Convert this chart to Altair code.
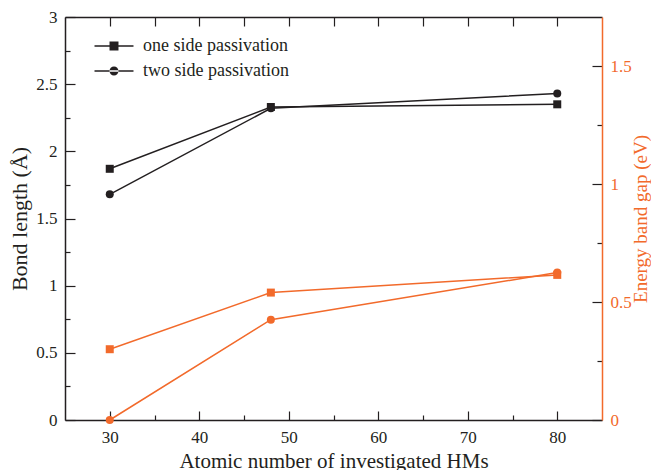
import altair as alt
import pandas as pd

# ---- data ----
atomic_number = [30, 48, 80]
bond_one_side = [1.87, 2.33, 2.35]
bond_two_side = [1.68, 2.32, 2.43]
gap_one_side = [0.30, 0.54, 0.615]
gap_two_side = [0.0, 0.425, 0.625]
series_names = ["one side passivation", "two side passivation"]

x_label_ticks = [30, 40, 50, 60, 70, 80]
x_minor_ticks = [35, 45, 55, 65, 75]
x_top_ticks = [30, 35, 40, 45, 50, 55, 60, 65, 70, 75, 80]
bond_ticks = [0, 0.5, 1, 1.5, 2, 2.5, 3]
bond_minor_ticks = [0.25, 0.75, 1.25, 1.75, 2.25, 2.75]
gap_ticks = [0, 0.5, 1, 1.5]
gap_minor_ticks = [0.25, 0.75, 1.25]

x_domain = [25, 85]
bond_domain = [0, 3]
gap_domain = [0, 1.708]

W, H = 537, 403
INK = "#231f20"
ORANGE = "#f26a2b"
FONT = "Liberation Serif"


def frame(ys):
    rows = []
    for name, vals in zip(series_names, ys):
        for xv, yv in zip(atomic_number, vals):
            rows.append({"atomic": xv, "value": yv, "series": name})
    return pd.DataFrame(rows)


bond_df = frame([bond_one_side, bond_two_side])
gap_df = frame([gap_one_side, gap_two_side])

xs = alt.Scale(domain=x_domain, nice=False, zero=False)
bond_scale = alt.Scale(domain=bond_domain, nice=False, zero=False)
gap_scale = alt.Scale(domain=gap_domain, nice=False, zero=False)


def tick_axis(orient, values, size, offset, domain=False):
    return alt.Axis(orient=orient, values=values, tickSize=size, offset=offset,
                    labels=False, domain=domain, domainColor=INK, domainWidth=1.5,
                    tickColor=INK, tickWidth=1.2, grid=False, title=None)


def tick_layer(df, yscale, x_axis=None, y_axis=None):
    return alt.Chart(df).mark_point(opacity=0).encode(
        x=alt.X("atomic:Q", scale=xs, axis=x_axis),
        y=alt.Y("value:Q", scale=yscale, axis=y_axis),
    )


x_axis_main = alt.Axis(orient="bottom", values=x_label_ticks, tickSize=0, labelPadding=9,
                       labelFont=FONT, labelFontSize=17, labelColor=INK,
                       domainColor=INK, domainWidth=1.5, grid=False, format="d",
                       title="Atomic number of investigated HMs", titleFont=FONT,
                       titleFontSize=21, titleFontWeight="normal", titleColor=INK,
                       titlePadding=5)
y_axis_left = alt.Axis(orient="left", values=bond_ticks, tickSize=0, labelPadding=8,
                       labelFont=FONT, labelFontSize=17, labelColor=INK, format="~g",
                       domainColor=INK, domainWidth=1.5, grid=False,
                       title="Bond length (Å)", titleFont=FONT, titleFontSize=22,
                       titleFontWeight="normal", titleColor=INK, titlePadding=4)
y_axis_right = alt.Axis(orient="right", values=gap_ticks, tickSize=0, labelPadding=8,
                        labelFont=FONT, labelFontSize=17, labelColor=ORANGE, format="~g",
                        domainColor=ORANGE, domainWidth=1.5, grid=False,
                        title="Energy band gap (eV)", titleFont=FONT, titleFontSize=19,
                        titleFontWeight="normal", titleColor=ORANGE, titleAngle=270,
                        titleBaseline="top", titlePadding=0)

black_line = alt.Chart(bond_df).mark_line(color=INK, strokeWidth=1.5).encode(
    x=alt.X("atomic:Q", scale=xs, axis=x_axis_main),
    y=alt.Y("value:Q", scale=bond_scale, axis=y_axis_left),
    detail="series:N",
)
black_pts = alt.Chart(bond_df).mark_point(filled=True, size=64, color=INK, opacity=1).encode(
    x=alt.X("atomic:Q", scale=xs, axis=None),
    y=alt.Y("value:Q", scale=bond_scale, axis=None),
    shape=alt.Shape("series:N", scale=alt.Scale(domain=series_names, range=["square", "circle"]), legend=None),
)
orange_line = alt.Chart(gap_df).mark_line(color=ORANGE, strokeWidth=1.5).encode(
    x=alt.X("atomic:Q", scale=xs, axis=None),
    y=alt.Y("value:Q", scale=gap_scale, axis=y_axis_right),
    detail="series:N",
)
orange_pts = alt.Chart(gap_df).mark_point(filled=True, size=64, color=ORANGE, opacity=1).encode(
    x=alt.X("atomic:Q", scale=xs, axis=None),
    y=alt.Y("value:Q", scale=gap_scale, axis=None),
    shape=alt.Shape("series:N", scale=alt.Scale(domain=series_names, range=["square", "circle"]), legend=None),
)

# legend glyphs: a filled thin bar (the line) plus the marker, all filled shapes
bar = "M-2,-0.08H2V0.08H-2Z"
sq_path = bar + "M-0.46,-0.46H0.46V0.46H-0.46Z"
ci_path = bar + "M-0.46,0A0.46,0.46,0,1,0,0.46,0A0.46,0.46,0,1,0,-0.46,0Z"
legend_layer = alt.Chart(bond_df).transform_filter("false").mark_point(
    filled=True, color=INK, size=380, opacity=1
).encode(
    x=alt.X("atomic:Q", scale=xs, axis=None),
    y=alt.Y("value:Q", scale=bond_scale, axis=None),
    shape=alt.Shape("series:N", scale=alt.Scale(domain=series_names, range=[sq_path, ci_path]),
                    legend=alt.Legend(orient="none", legendX=39, legendY=19, title=None,
                                      padding=0, symbolSize=380,
                                      symbolFillColor=INK, symbolStrokeWidth=0,
                                      symbolOpacity=1, labelFont=FONT, labelFontSize=18,
                                      labelColor=INK, labelOffset=19, rowPadding=6,
                                      labelLimit=400)),
)

ticks = [
    tick_layer(bond_df, bond_scale, x_axis=tick_axis("top", x_label_ticks, 9, -H)),
    tick_layer(bond_df, bond_scale, x_axis=tick_axis("top", x_minor_ticks, 5, -H)),
    tick_layer(bond_df, bond_scale, x_axis=tick_axis("bottom", x_top_ticks, 9, -H, domain=True)),
    tick_layer(bond_df, bond_scale, y_axis=tick_axis("right", bond_ticks, 10, -W)),
    tick_layer(bond_df, bond_scale, y_axis=tick_axis("right", bond_minor_ticks, 5, -W)),
    tick_layer(gap_df, gap_scale, y_axis=tick_axis("left", gap_ticks, 10, -W)),
    tick_layer(gap_df, gap_scale, y_axis=tick_axis("left", gap_minor_ticks, 5, -W)),
]

chart = alt.layer(
    *ticks, black_line, orange_line, black_pts, orange_pts, legend_layer
).resolve_scale(
    y="independent", shape="independent"
).resolve_axis(
    x="independent", y="independent"
).resolve_legend(
    shape="independent"
).properties(
    width=W, height=H,
    padding={"left": 57, "top": 9, "right": 49, "bottom": 50},
    autosize=alt.AutoSizeParams(type="none"),
    background="white",
).configure_view(stroke=None)

chart.save("out.html", embed_options={"renderer": "svg", "actions": False})
